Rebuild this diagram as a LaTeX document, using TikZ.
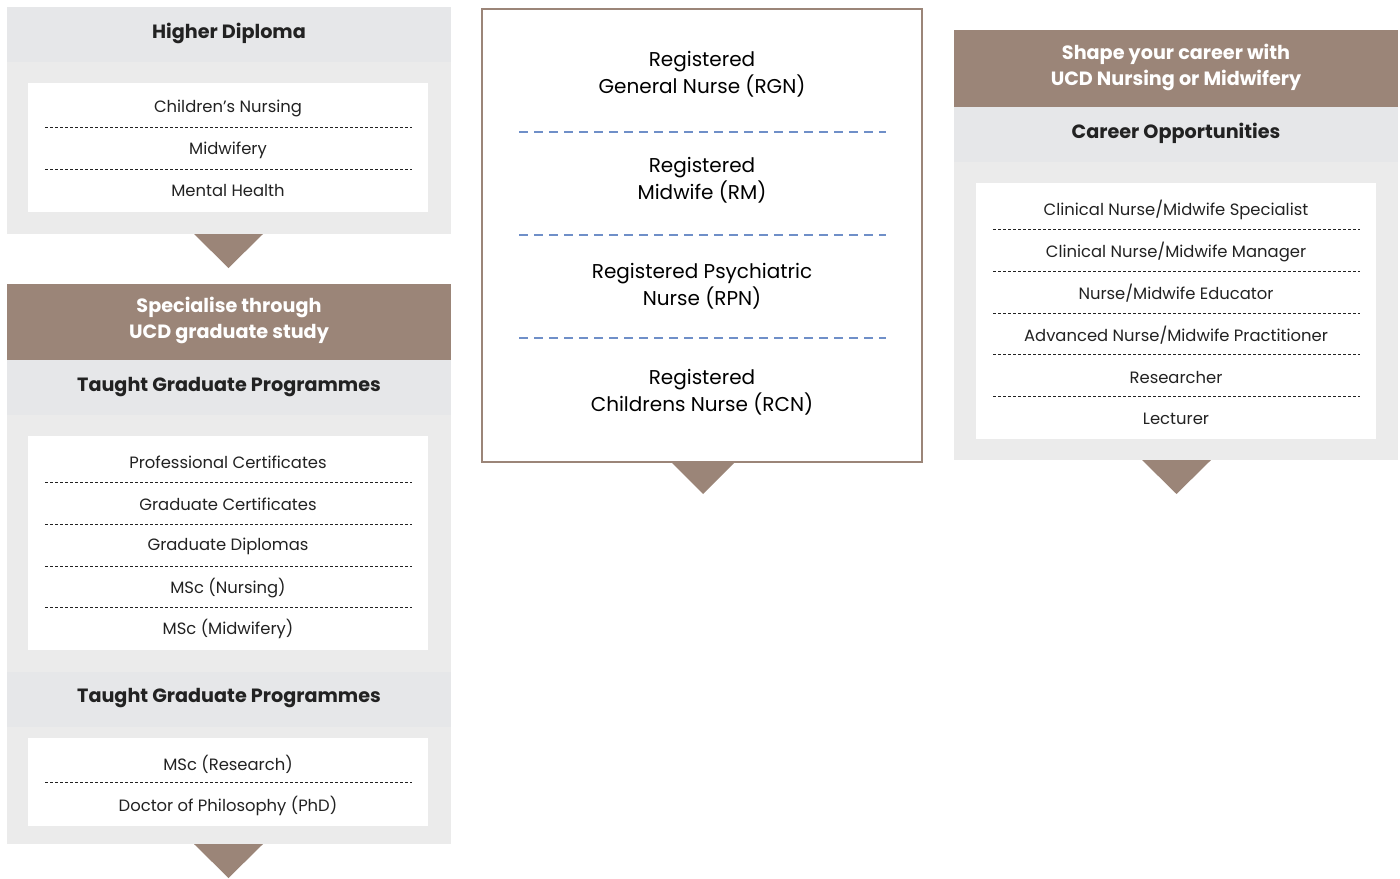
\documentclass[tikz,border=0pt]{standalone}
\usepackage{fontspec}
\setmainfont{Poppins}
\definecolor{ucdbrown}{HTML}{9B8578}
\definecolor{bandgrey}{HTML}{E6E7E9}
\definecolor{bodygrey}{HTML}{EBEBEB}
\definecolor{inkgrey}{HTML}{222222}
\definecolor{dashblue}{HTML}{6F8FC8}
\begin{document}
\begin{tikzpicture}[x=0.5pt,y=-0.5pt,
  itemtext/.style={font=\fontsize{8.2}{10}\selectfont, text=inkgrey},
  headtext/.style={font=\fontsize{9.6}{12}\selectfont\bfseries, text=inkgrey},
  bandtext/.style={font=\fontsize{9.6}{13}\selectfont\bfseries, text=white, align=center},
  regtext/.style={font=\fontsize{10}{13.5}\selectfont, text=black, align=center},
  divider/.style={draw=inkgrey, line width=0.5pt, dash pattern=on 1.5pt off 1pt},
  bluedivider/.style={draw=dashblue, line width=1.2pt, dash pattern=on 4.5pt off 3pt},
  pointer/.style={fill=ucdbrown}]
\useasboundingbox (0,0) rectangle (1400,878);
% left column: higher diploma
\fill[bandgrey] (7,7) rectangle (451,62);
\node[headtext] (hd) at (229,33) {Higher Diploma};
\fill[bodygrey] (7,62) rectangle (451,234);
\fill[white] (28,83) rectangle (428,212);
\node[itemtext] (hd1) at (228,108) {Children’s Nursing};
\node[itemtext] (hd2) at (228,150) {Midwifery};
\node[itemtext] (hd3) at (228,191) {Mental Health};
\draw[divider] (45,127) -- (412,127);
\draw[divider] (45,169) -- (412,169);
\fill[pointer] (194,234) -- (263,234) -- (228.5,268) -- cycle;
% left column: graduate study
\fill[ucdbrown] (7,284) rectangle (451,360);
\node[bandtext] (spec) at (229,320) {Specialise through\\UCD graduate study};
\fill[bandgrey] (7,360) rectangle (451,415);
\node[headtext] (tgp) at (229,387) {Taught Graduate Programmes};
\fill[bodygrey] (7,415) rectangle (451,672);
\fill[white] (28,436) rectangle (428,650);
\node[itemtext] (tgp1) at (228,462) {Professional Certificates};
\node[itemtext] (tgp2) at (228,504) {Graduate Certificates};
\node[itemtext] (tgp3) at (228,546) {Graduate Diplomas};
\node[itemtext] (tgp4) at (228,588) {MSc (Nursing)};
\node[itemtext] (tgp5) at (228,629) {MSc (Midwifery)};
\draw[divider] (45,482) -- (412,482);
\draw[divider] (45,524) -- (412,524);
\draw[divider] (45,566) -- (412,566);
\draw[divider] (45,607) -- (412,607);
\fill[bandgrey] (7,672) rectangle (451,727);
\node[headtext] (rgp) at (229,698) {Taught Graduate Programmes};
\fill[bodygrey] (7,727) rectangle (451,844);
\fill[white] (28,738) rectangle (428,826);
\node[itemtext] (rgp1) at (228,764) {MSc (Research)};
\node[itemtext] (rgp2) at (228,806) {Doctor of Philosophy (PhD)};
\draw[divider] (45,782) -- (412,782);
\fill[pointer] (194,844) -- (263,844) -- (228.5,878) -- cycle;
% middle column: registration
\draw[ucdbrown, line width=1pt, fill=white] (482,9) rectangle (922,462);
\node[regtext] (rgn) at (702,74) {Registered\\General Nurse (RGN)};
\node[regtext] (rm) at (702,180) {Registered\\Midwife (RM)};
\node[regtext] (rpn) at (702,286) {Registered Psychiatric\\Nurse (RPN)};
\node[regtext] (rcn) at (702,392) {Registered\\Childrens Nurse (RCN)};
\draw[bluedivider] (519,132) -- (886,132);
\draw[bluedivider] (519,235) -- (886,235);
\draw[bluedivider] (519,338) -- (886,338);
\fill[pointer] (672,463) -- (734,463) -- (703,494) -- cycle;
% right column: careers
\fill[ucdbrown] (954,30) rectangle (1398,107);
\node[bandtext] (shape) at (1176,67) {Shape your career with\\UCD Nursing or Midwifery};
\fill[bandgrey] (954,107) rectangle (1398,162);
\node[headtext] (co) at (1176,133) {Career Opportunities};
\fill[bodygrey] (954,162) rectangle (1398,460);
\fill[white] (976,183) rectangle (1376,439);
\node[itemtext] (co1) at (1176,210) {Clinical Nurse/Midwife Specialist};
\node[itemtext] (co2) at (1176,252) {Clinical Nurse/Midwife Manager};
\node[itemtext] (co3) at (1176,293) {Nurse/Midwife Educator};
\node[itemtext] (co4) at (1176,335) {Advanced Nurse/Midwife Practitioner};
\node[itemtext] (co5) at (1176,377) {Researcher};
\node[itemtext] (co6) at (1176,419) {Lecturer};
\draw[divider] (993,229) -- (1360,229);
\draw[divider] (993,271) -- (1360,271);
\draw[divider] (993,313) -- (1360,313);
\draw[divider] (993,354) -- (1360,354);
\draw[divider] (993,396) -- (1360,396);
\fill[pointer] (1142,460) -- (1211,460) -- (1176.5,494) -- cycle;
\end{tikzpicture}
\end{document}
